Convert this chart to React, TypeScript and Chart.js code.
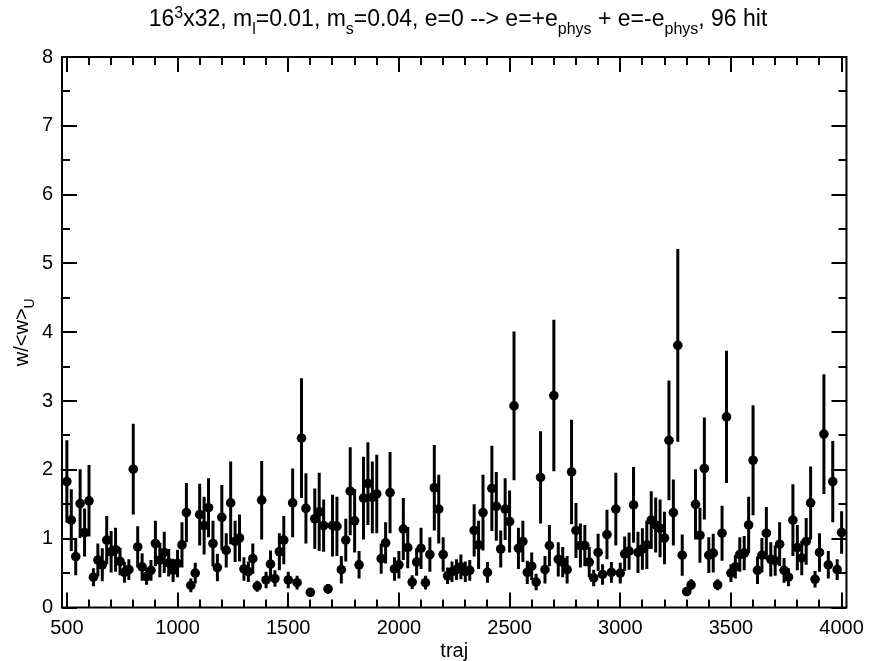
import React, { useEffect, useRef } from "react";
import { Chart, registerables } from "chart.js";

Chart.register(...registerables);

// trajectory numbers (x)
const traj = [
  500, 520, 540, 560, 580, 600, 620, 640, 660, 680,
  700, 720, 740, 760, 780, 800, 820, 840, 860, 880,
  900, 920, 940, 960, 980, 1000, 1020, 1040, 1060, 1080,
  1100, 1120, 1140, 1160, 1180, 1200, 1220, 1240, 1260, 1280,
  1300, 1320, 1340, 1360, 1380, 1400, 1420, 1440, 1460, 1480,
  1500, 1520, 1540, 1560, 1580, 1600, 1620, 1640, 1660, 1680,
  1700, 1720, 1740, 1760, 1780, 1800, 1820, 1840, 1860, 1880,
  1900, 1920, 1940, 1960, 1980, 2000, 2020, 2040, 2060, 2080,
  2100, 2120, 2140, 2160, 2180, 2200, 2220, 2240, 2260, 2280,
  2300, 2320, 2340, 2360, 2380, 2400, 2420, 2440, 2460, 2480,
  2500, 2520, 2540, 2560, 2580, 2600, 2620, 2640, 2660, 2680,
  2700, 2720, 2740, 2760, 2780, 2800, 2820, 2840, 2860, 2880,
  2900, 2920, 2940, 2960, 2980, 3000, 3020, 3040, 3060, 3080,
  3100, 3120, 3140, 3160, 3180, 3200, 3220, 3240, 3260, 3280,
  3300, 3320, 3340, 3360, 3380, 3400, 3420, 3440, 3460, 3480,
  3500, 3520, 3540, 3560, 3580, 3600, 3620, 3640, 3660, 3680,
  3700, 3720, 3740, 3760, 3780, 3800, 3820, 3840, 3860, 3880,
  3900, 3920, 3940, 3960, 3980, 4000,
];

// w/<w>_U values
const ratio = [
  1.83, 1.27, 0.74, 1.51, 1.09, 1.55, 0.44, 0.69, 0.62, 0.98,
  0.81, 0.84, 0.67, 0.51, 0.55, 2.01, 0.88, 0.59, 0.45, 0.54,
  0.93, 0.69, 0.8, 0.65, 0.54, 0.64, 0.91, 1.38, 0.32, 0.5,
  1.35, 1.19, 1.45, 0.93, 0.58, 1.31, 0.83, 1.52, 0.96, 1.01,
  0.56, 0.52, 0.71, 0.31, 1.56, 0.4, 0.63, 0.42, 0.81, 0.98,
  0.4, 1.52, 0.36, 2.46, 1.44, 0.22, 1.29, 1.39, 1.19, 0.27,
  1.19, 1.18, 0.55, 0.98, 1.69, 1.26, 0.62, 1.59, 1.8, 1.6,
  1.65, 0.71, 0.94, 1.67, 0.56, 0.62, 1.14, 0.87, 0.37, 0.66,
  0.86, 0.36, 0.77, 1.74, 1.43, 0.77, 0.46, 0.52, 0.55, 0.59,
  0.52, 0.54, 1.12, 0.91, 1.38, 0.51, 1.73, 1.47, 0.85, 1.43,
  1.25, 2.93, 0.86, 0.96, 0.51, 0.6, 0.37, 1.89, 0.55, 0.9,
  3.08, 0.7, 0.66, 0.55, 1.97, 1.12, 0.9, 0.9, 0.66, 0.43,
  0.8, 0.48, 1.06, 0.51, 1.43, 0.5, 0.78, 0.82, 1.49, 0.8,
  0.85, 0.91, 1.27, 1.2, 1.15, 1.01, 2.43, 1.38, 3.81, 0.76,
  0.23, 0.33, 1.5, 1.05, 2.02, 0.76, 0.79, 0.33, 1.08, 2.77,
  0.5, 0.59, 0.77, 0.79, 1.2, 2.14, 0.54, 0.76, 1.08, 0.7,
  0.68, 0.92, 0.54, 0.44, 1.27, 0.87, 0.72, 0.96, 1.52, 0.41,
  0.8, 2.52, 0.62, 1.83, 0.55, 1.09,
];

// symmetric errors
const errors = [
  0.6, 0.45, 0.27, 0.5, 0.35, 0.52, 0.13, 0.24, 0.24, 0.35,
  0.3, 0.32, 0.2, 0.15, 0.15, 0.66, 0.3, 0.2, 0.12, 0.15,
  0.33, 0.25, 0.3, 0.2, 0.17, 0.2, 0.33, 0.43, 0.1, 0.15,
  0.45, 0.42, 0.43, 0.33, 0.2, 0.47, 0.25, 0.6, 0.3, 0.34,
  0.17, 0.15, 0.22, 0.08, 0.57, 0.12, 0.2, 0.12, 0.27, 0.35,
  0.12, 0.5, 0.1, 0.87, 0.51, 0.05, 0.44, 0.57, 0.38, 0.07,
  0.45, 0.43, 0.2, 0.31, 0.64, 0.46, 0.2, 0.6, 0.6, 0.52,
  0.57, 0.22, 0.3, 0.59, 0.17, 0.2, 0.45, 0.3, 0.1, 0.2,
  0.3, 0.1, 0.25, 0.62, 0.5, 0.25, 0.12, 0.15, 0.15, 0.18,
  0.15, 0.15, 0.38, 0.35, 0.55, 0.15, 0.62, 0.5, 0.27, 0.45,
  0.45, 1.08, 0.3, 0.3, 0.17, 0.2, 0.12, 0.67, 0.2, 0.3,
  1.1, 0.25, 0.22, 0.2, 0.76, 0.4, 0.32, 0.3, 0.22, 0.12,
  0.27, 0.15, 0.36, 0.15, 0.53, 0.15, 0.25, 0.27, 0.55, 0.3,
  0.3, 0.35, 0.42, 0.4, 0.42, 0.38, 0.87, 0.48, 1.4, 0.3,
  0.06, 0.08, 0.51, 0.4, 0.74, 0.26, 0.28, 0.08, 0.4, 0.96,
  0.13, 0.17, 0.25, 0.25, 0.41, 0.8, 0.2, 0.25, 0.38, 0.25,
  0.22, 0.32, 0.18, 0.13, 0.52, 0.33, 0.25, 0.34, 0.53, 0.12,
  0.28, 0.87, 0.2, 0.59, 0.15, 0.31,
];

const xTicks = [500, 1000, 1500, 2000, 2500, 3000, 3500, 4000];
const yTicks = [0, 1, 2, 3, 4, 5, 6, 7, 8];
const xMinorStep = 100;
const yMinorStep = 0.5;

const FONT = '"Liberation Sans", Arial, Helvetica, sans-serif';

type Seg = { t: string; k: "n" | "sub" | "sup" };
const titleSegs: Seg[] = [
  { t: "16", k: "n" },
  { t: "3", k: "sup" },
  { t: "x32, m", k: "n" },
  { t: "l", k: "sub" },
  { t: "=0.01, m", k: "n" },
  { t: "s", k: "sub" },
  { t: "=0.04, e=0 --> e=+e", k: "n" },
  { t: "phys", k: "sub" },
  { t: " + e=-e", k: "n" },
  { t: "phys", k: "sub" },
  { t: ", 96 hit", k: "n" },
];
const yTitleSegs: Seg[] = [
  { t: "w/<w>", k: "n" },
  { t: "U", k: "sub" },
];

function drawSegs(
  ctx: CanvasRenderingContext2D,
  segs: Seg[],
  cx: number,
  baseY: number,
  big: number,
  small: number,
  subDy: number,
  supDy: number
) {
  const bigF = big + "px " + FONT;
  const smallF = small + "px " + FONT;
  let total = 0;
  const widths = segs.map((s) => {
    ctx.font = s.k === "n" ? bigF : smallF;
    const w = ctx.measureText(s.t).width;
    total += w;
    return w;
  });
  let x = cx - total / 2;
  ctx.textAlign = "left";
  ctx.textBaseline = "alphabetic";
  segs.forEach((s, i) => {
    ctx.font = s.k === "n" ? bigF : smallF;
    const dy = s.k === "sub" ? subDy : s.k === "sup" ? supDy : 0;
    ctx.fillText(s.t, x, baseY + dy);
    x += widths[i];
  });
}

const decoPlugin = {
  id: "deco",
  beforeDatasetsDraw(chart: any) {
    const ctx: CanvasRenderingContext2D = chart.ctx;
    const xs = chart.scales.x;
    const ys = chart.scales.y;
    ctx.save();
    ctx.strokeStyle = "#000";
    ctx.lineWidth = 3;
    ctx.lineCap = "butt";
    ctx.beginPath();
    for (let i = 0; i < traj.length; i++) {
      const px = xs.getPixelForValue(traj[i]);
      ctx.moveTo(px, ys.getPixelForValue(ratio[i] - errors[i]));
      ctx.lineTo(px, ys.getPixelForValue(ratio[i] + errors[i]));
    }
    ctx.stroke();
    ctx.restore();
  },
  afterDraw(chart: any) {
    const ctx: CanvasRenderingContext2D = chart.ctx;
    const a = chart.chartArea;
    const xs = chart.scales.x;
    const ys = chart.scales.y;
    ctx.save();
    ctx.strokeStyle = "#000";
    ctx.lineWidth = 2;
    ctx.beginPath();
    const major = 15;
    const minor = 8;
    const startX = Math.ceil(xs.min / xMinorStep) * xMinorStep;
    for (let v = startX; v <= xs.max; v += xMinorStep) {
      const len = xTicks.includes(v) ? major : minor;
      const px = Math.round(xs.getPixelForValue(v));
      ctx.moveTo(px, a.bottom);
      ctx.lineTo(px, a.bottom - len);
      ctx.moveTo(px, a.top);
      ctx.lineTo(px, a.top + len);
    }
    for (let v = ys.min; v <= ys.max + 1e-9; v += yMinorStep) {
      const len = yTicks.includes(Math.round(v * 100) / 100) ? major : minor;
      const py = Math.round(ys.getPixelForValue(v));
      ctx.moveTo(a.left, py);
      ctx.lineTo(a.left + len, py);
      ctx.moveTo(a.right, py);
      ctx.lineTo(a.right - len, py);
    }
    ctx.stroke();
    ctx.strokeRect(a.left, a.top, a.right - a.left, a.bottom - a.top);

    ctx.fillStyle = "#000";
    drawSegs(ctx, titleSegs, 458, 25.5, 23, 16, 8, -8);

    ctx.font = "20px " + FONT;
    ctx.textAlign = "center";
    ctx.textBaseline = "alphabetic";
    ctx.fillText("traj", (a.left + a.right) / 2, 657);

    ctx.save();
    ctx.translate(27.5, (a.top + a.bottom) / 2);
    ctx.rotate(-Math.PI / 2);
    drawSegs(ctx, yTitleSegs, 0, 0, 20, 14, 6, -7);
    ctx.restore();
    ctx.restore();
  },
};

export default function App() {
  const ref = useRef<HTMLCanvasElement | null>(null);
  useEffect(() => {
    if (!ref.current) return;
    const chart = new Chart(ref.current, {
      type: "scatter",
      data: {
        datasets: [
          {
            data: traj.map((x, i) => ({ x, y: ratio[i] })),
            pointRadius: 4.8,
            pointHoverRadius: 4.8,
            backgroundColor: "#000",
            borderWidth: 0,
            showLine: false,
          },
        ],
      },
      options: {
        animation: false,
        responsive: false,
        devicePixelRatio: 1,
        layout: { padding: { top: 57, right: 24, left: 0, bottom: 0 } },
        plugins: {
          legend: { display: false },
          title: { display: false },
          tooltip: { enabled: false },
        },
        scales: {
          x: {
            type: "linear",
            min: 478,
            max: 4022,
            grid: { display: false, drawTicks: false },
            border: { display: false },
            afterBuildTicks: (s: any) => {
              s.ticks = xTicks.map((v) => ({ value: v }));
            },
            afterFit: (s: any) => {
              s.height = 53.5;
            },
            ticks: {
              autoSkip: false,
              maxRotation: 0,
              padding: 9,
              color: "#000",
              font: { family: FONT, size: 20 },
              callback: (v: any) => String(v),
            },
          },
          y: {
            type: "linear",
            min: 0,
            max: 8,
            grid: { display: false, drawTicks: false },
            border: { display: false },
            afterBuildTicks: (s: any) => {
              s.ticks = yTicks.map((v) => ({ value: v }));
            },
            afterFit: (s: any) => {
              s.width = 62;
            },
            ticks: {
              autoSkip: false,
              padding: 9,
              color: "#000",
              font: { family: FONT, size: 20 },
              callback: (v: any) => String(v),
            },
          },
        },
      },
      plugins: [decoPlugin],
    });
    return () => chart.destroy();
  }, []);
  return (
    <div style={{ position: "absolute", left: 0, top: 0, width: 873, height: 661, background: "#fff" }}>
      <canvas ref={ref} width={873} height={661} style={{ display: "block" }} />
    </div>
  );
}
